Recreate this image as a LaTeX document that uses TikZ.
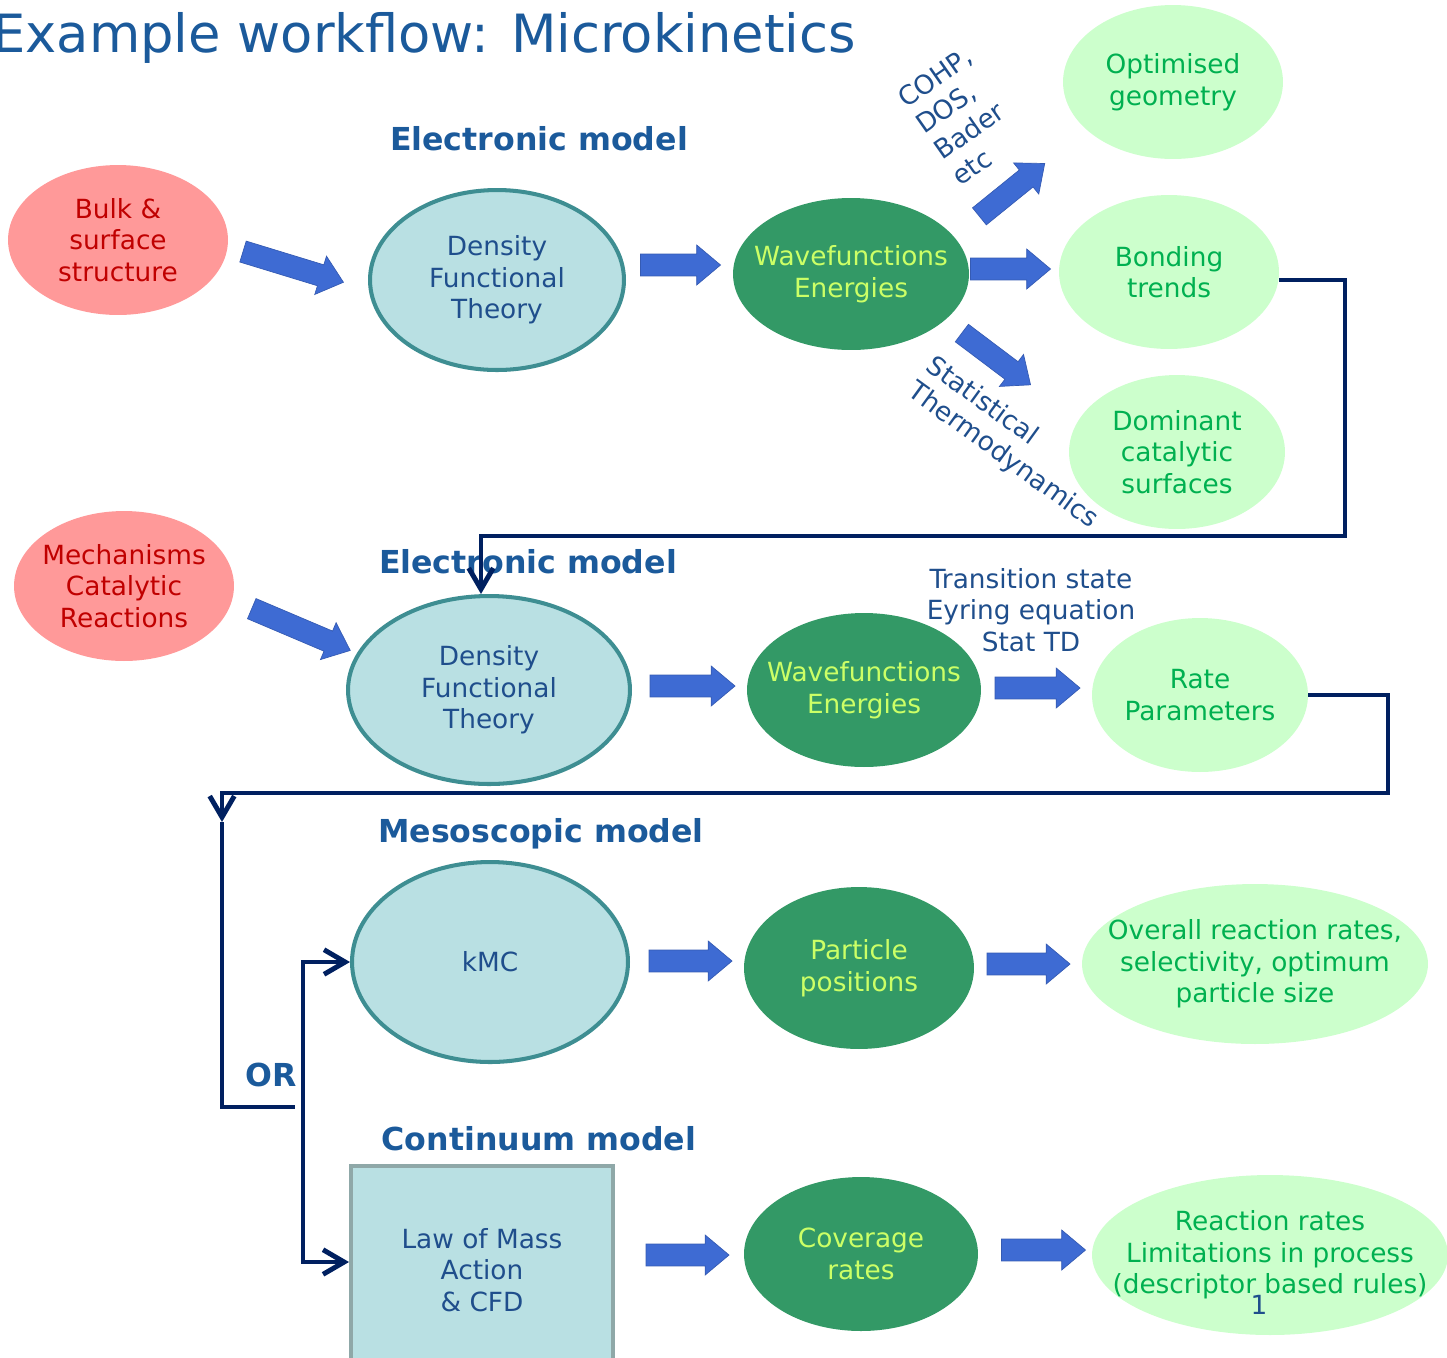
\documentclass[tikz,border=0pt]{standalone}
\usepackage{fontspec}
\setmainfont{DejaVu Sans}
\usetikzlibrary{shapes.geometric,shapes.arrows,arrows.meta}
\definecolor{redfill}{HTML}{FF9999}
\definecolor{redtext}{HTML}{C00000}
\definecolor{dftfill}{HTML}{B9E0E3}
\definecolor{dftline}{HTML}{3E8E92}
\definecolor{darkgreen}{HTML}{339966}
\definecolor{limetext}{HTML}{CCFF66}
\definecolor{palegreen}{HTML}{CCFFCC}
\definecolor{greentext}{HTML}{00B050}
\definecolor{bodyblue}{HTML}{1F4E8C}
\definecolor{headblue}{HTML}{1B5A9B}
\definecolor{arrowblue}{HTML}{3E6BD3}
\definecolor{navy}{HTML}{002060}
\definecolor{boxline}{HTML}{8FA8A8}

\begin{document}
\begin{tikzpicture}[x=0.02cm, y=-0.02cm,
    txt/.style={font=\fontsize{15}{18}\selectfont, align=center, inner sep=0pt},
    blob/.style={ellipse, txt, inner xsep=-3cm, inner ysep=-1.5cm},
    inputnode/.style={blob, fill=redfill, text=redtext},
    dftnode/.style={blob, fill=dftfill, draw=dftline, line width=2.3pt, text=bodyblue},
    wavenode/.style={blob, fill=darkgreen, text=limetext},
    outnode/.style={blob, fill=palegreen, text=greentext},
    heading/.style={font=\fontsize{18}{22}\selectfont\bfseries, text=headblue, inner sep=0pt},
    note/.style={font=\fontsize{15}{18}\selectfont, text=bodyblue, inner sep=0pt},
    fatarrow/.style={single arrow, fill=arrowblue, draw=arrowblue!85!black, line width=0.4pt,
        minimum width=0.8cm, single arrow head extend=0.18cm, single arrow tip angle=80,
        inner xsep=0pt, inner ysep=0.21cm},
    link/.style={draw=navy, line width=2.8pt, -{Straight Barb[length=12pt,width=14pt]}},
    twolink/.style={draw=navy, line width=2.8pt, {Straight Barb[length=12pt,width=14pt]}-{Straight Barb[length=12pt,width=14pt]}}
]
    \useasboundingbox (0,0) rectangle (1447,1357);

    % title and headings
    \node[anchor=base west, inner sep=0pt, font=\fontsize{30}{36}\selectfont, text=headblue] (title) at (-8,52) {Example workflow: Microkinetics};
    \node[heading] (head1) at (539,139) {Electronic model};
    \node[heading] (head2) at (528,562) {Electronic model};
    \node[heading] (head3) at (541,834) {Mesoscopic model};
    \node[heading] (head4) at (539,1139) {Continuum model};
    \node[heading] (ortext) at (271,1075) {OR};

    % first row
    \node[inputnode, minimum width=4.4cm, minimum height=3.0cm] (bulk) at (118,240) {Bulk \&\\surface\\structure};
    \node[dftnode, minimum width=5.08cm, minimum height=3.6cm] (dfta) at (497,280) {Density\\Functional\\Theory};
    \node[wavenode, minimum width=4.72cm, minimum height=3.04cm] (wavea) at (851,274) {Wavefunctions\\Energies};
    \node[outnode, minimum width=4.4cm, minimum height=3.08cm] (optgeo) at (1173,82) {Optimised\\geometry};
    \node[outnode, minimum width=4.4cm, minimum height=3.08cm] (bonding) at (1169,272) {Bonding\\trends};
    \node[outnode, minimum width=4.32cm, minimum height=3.08cm] (dominant) at (1177,452) {Dominant\\catalytic\\surfaces};

    \node[note, rotate=35, align=left] (cohp) at (962,116) {COHP,\\DOS,\\Bader\\etc};
    \node[note, rotate=-36, align=left] (stat) at (1012,443) {Statistical\\Thermodynamics};

    % second row
    \node[inputnode, minimum width=4.4cm, minimum height=3.0cm] (mech) at (124,586) {Mechanisms\\Catalytic\\Reactions};
    \node[dftnode, minimum width=5.64cm, minimum height=3.76cm] (dftb) at (489,690) {Density\\Functional\\Theory};
    \node[wavenode, minimum width=4.68cm, minimum height=3.08cm] (waveb) at (864,690) {Wavefunctions\\Energies};
    \node[outnode, minimum width=4.32cm, minimum height=3.08cm] (rate) at (1200,695) {Rate\\Parameters};
    \node[note, align=center] (trans) at (1031,610) {Transition state\\Eyring equation\\Stat TD};

    % third row
    \node[dftnode, minimum width=5.52cm, minimum height=4.0cm] (kmc) at (490,962) {kMC};
    \node[wavenode, minimum width=4.6cm, minimum height=3.24cm] (particle) at (859,968) {Particle\\positions};
    \node[outnode, minimum width=6.92cm, minimum height=3.2cm] (overall) at (1255,964) {Overall reaction rates,\\selectivity, optimum\\particle size};

    % fourth row
    \node[rectangle, fill=dftfill, draw=boxline, line width=2.3pt, text=bodyblue, txt,
        minimum width=5.24cm, minimum height=4.16cm] (lawmass) at (482,1270) {Law of Mass\\Action\\\& CFD};
    \node[wavenode, minimum width=4.68cm, minimum height=3.08cm] (coverage) at (861,1254) {Coverage\\rates};
    \node[outnode, minimum width=7.12cm, minimum height=3.2cm] (reaction) at (1270,1255) {Reaction rates\\Limitations in process\\(descriptor based rules)};
    \node[note] (pagenum) at (1259,1305) {1};

    % block arrows
    \node[fatarrow, minimum height=2.1cm, rotate=-17] (a1) at (287,265) {};
    \node[fatarrow, minimum height=1.6cm] (a2) at (674,265) {};
    \node[fatarrow, minimum height=1.6cm] (a3) at (1004,269) {};
    \node[fatarrow, minimum height=1.68cm, rotate=39] (a4) at (1007,194) {};
    \node[fatarrow, minimum height=1.72cm, rotate=-37] (a5) at (991,355) {};
    \node[fatarrow, minimum height=2.14cm, rotate=-23] (a6) at (295,627) {};
    \node[fatarrow, minimum height=1.7cm] (a7) at (686,686) {};
    \node[fatarrow, minimum height=1.7cm] (a8) at (1031,688) {};
    \node[fatarrow, minimum height=1.66cm] (a9) at (684,961) {};
    \node[fatarrow, minimum height=1.66cm] (a10) at (1022,964) {};
    \node[fatarrow, minimum height=1.66cm] (a11) at (681,1255) {};
    \node[fatarrow, minimum height=1.68cm] (a12) at (1037,1250) {};

    % feedback connectors
    \coordinate (split) at (222,822);
    \coordinate (orjoin) at (295,1107);
    \coordinate (fork) at (303,962);
    \draw[link] ([yshift=-0.16cm]bonding.east) -| (1345,536) -| ([xshift=-0.16cm]dftb.north);
    \draw[link] (rate.east) -| (1388,793) -| (split);
    \draw[navy, line width=2.8pt] (split) |- (orjoin);
    \draw[twolink] (kmc.west) -- (fork) |- ([yshift=0.16cm]lawmass.west);
\end{tikzpicture}
\end{document}
